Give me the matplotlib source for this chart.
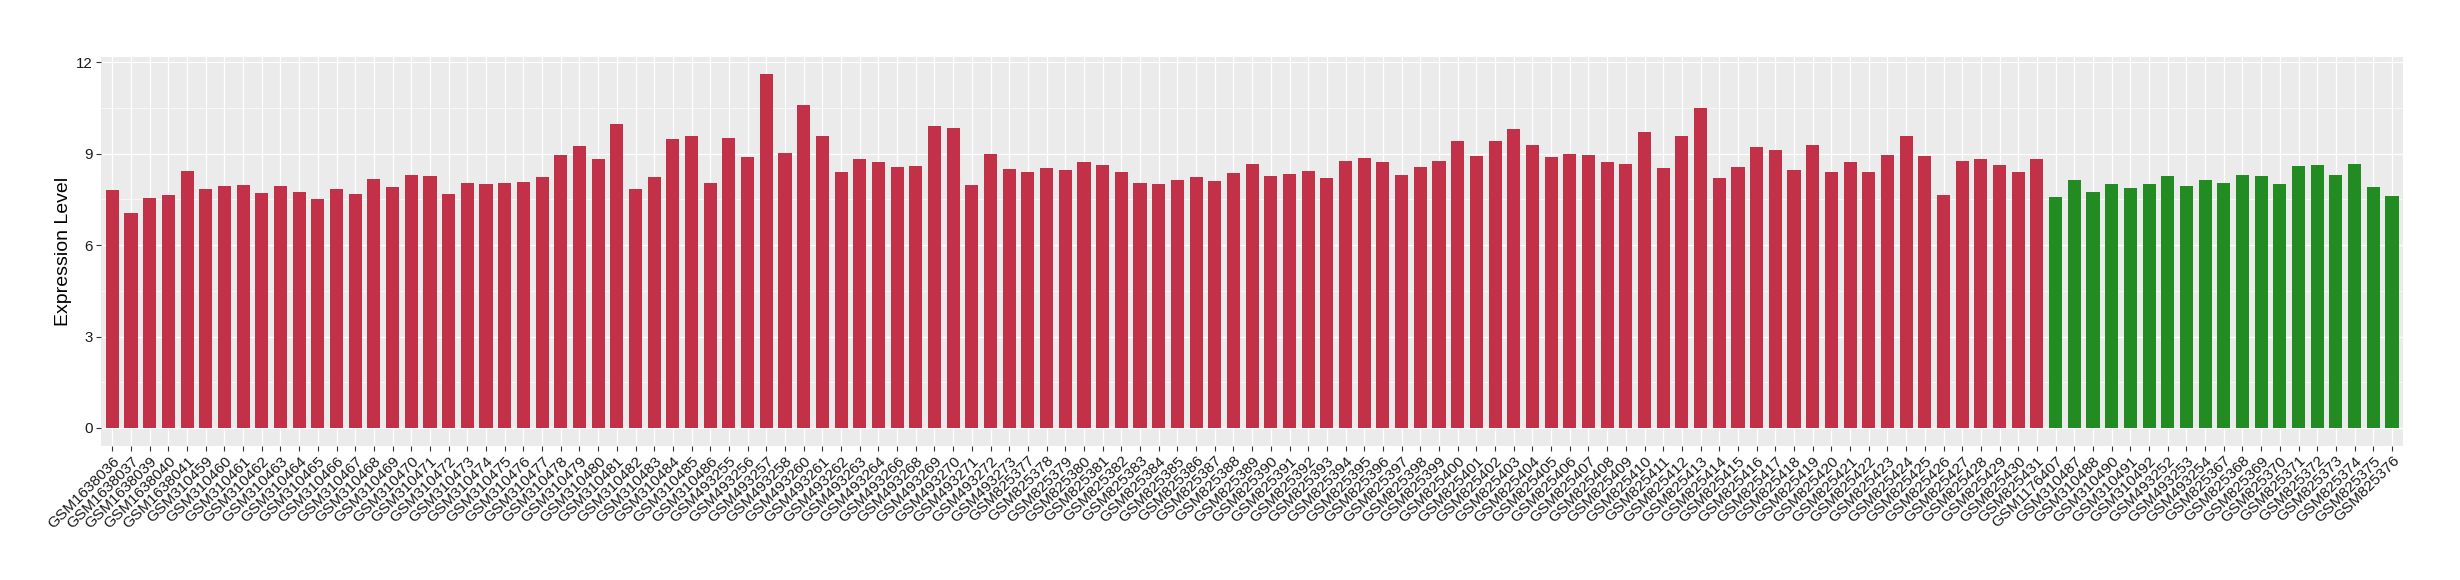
import matplotlib
matplotlib.use("Agg")
import matplotlib.pyplot as plt
from matplotlib.ticker import MultipleLocator

plt.rcParams['font.family'] = ['Liberation Sans', 'DejaVu Sans']

# tumour samples (red) and normal samples (green)
tumor_samples = [
    'GSM1638036', 'GSM1638037', 'GSM1638039', 'GSM1638040', 'GSM1638041',
    'GSM310459', 'GSM310460', 'GSM310461', 'GSM310462', 'GSM310463', 'GSM310464',
    'GSM310465', 'GSM310466', 'GSM310467', 'GSM310468', 'GSM310469', 'GSM310470',
    'GSM310471', 'GSM310472', 'GSM310473', 'GSM310474', 'GSM310475', 'GSM310476',
    'GSM310477', 'GSM310478', 'GSM310479', 'GSM310480', 'GSM310481', 'GSM310482',
    'GSM310483', 'GSM310484', 'GSM310485', 'GSM310486',
    'GSM493255', 'GSM493256', 'GSM493257', 'GSM493258', 'GSM493260', 'GSM493261',
    'GSM493262', 'GSM493263', 'GSM493264', 'GSM493266', 'GSM493268', 'GSM493269',
    'GSM493270', 'GSM493271', 'GSM493272', 'GSM493273',
    'GSM825377', 'GSM825378', 'GSM825379', 'GSM825380', 'GSM825381', 'GSM825382',
    'GSM825383', 'GSM825384', 'GSM825385', 'GSM825386', 'GSM825387', 'GSM825388',
    'GSM825389', 'GSM825390', 'GSM825391', 'GSM825392', 'GSM825393', 'GSM825394',
    'GSM825395', 'GSM825396', 'GSM825397', 'GSM825398', 'GSM825399', 'GSM825400',
    'GSM825401', 'GSM825402', 'GSM825403', 'GSM825404', 'GSM825405', 'GSM825406',
    'GSM825407', 'GSM825408', 'GSM825409', 'GSM825410', 'GSM825411', 'GSM825412',
    'GSM825413', 'GSM825414', 'GSM825415', 'GSM825416', 'GSM825417', 'GSM825418',
    'GSM825419', 'GSM825420', 'GSM825421', 'GSM825422', 'GSM825423', 'GSM825424',
    'GSM825425', 'GSM825426', 'GSM825427', 'GSM825428', 'GSM825429', 'GSM825430',
    'GSM825431',
]
tumor_values = [
    7.80, 7.05, 7.54, 7.64, 8.42, 7.83, 7.93, 7.96, 7.70, 7.93, 7.73, 7.51, 7.83,
    7.67, 8.16, 7.90, 8.29, 8.26, 7.67, 8.03, 8.00, 8.03, 8.06, 8.23, 8.95,
    9.24, 8.81, 9.96, 7.83, 8.23, 9.47, 9.57, 8.03, 9.50, 8.88, 11.60, 9.01, 10.58,
    9.57, 8.39, 8.81, 8.72, 8.55, 8.59, 9.89, 9.83, 7.96, 8.98, 8.49, 8.39,
    8.52, 8.45, 8.72, 8.62, 8.39, 8.03, 8.00, 8.13, 8.23, 8.09, 8.36, 8.65, 8.26,
    8.32, 8.42, 8.19, 8.75, 8.85, 8.72, 8.29, 8.55, 8.75, 9.40, 8.91, 9.40,
    9.80, 9.27, 8.88, 8.98, 8.95, 8.72, 8.65, 9.70, 8.52, 9.57, 10.48, 8.19, 8.55,
    9.21, 9.11, 8.45, 9.27, 8.39, 8.72, 8.39, 8.95, 9.57, 8.91, 7.64, 8.75,
    8.81, 8.62, 8.39, 8.81,
]

normal_samples = [
    'GSM1176407', 'GSM310487', 'GSM310488', 'GSM310490', 'GSM310491', 'GSM310492',
    'GSM493252', 'GSM493253', 'GSM493254',
    'GSM825367', 'GSM825368', 'GSM825369', 'GSM825370', 'GSM825371', 'GSM825372',
    'GSM825373', 'GSM825374', 'GSM825375', 'GSM825376',
]
normal_values = [
    7.57, 8.13, 7.73, 8.00, 7.87, 8.00, 8.26, 7.93, 8.13, 8.03, 8.29, 8.26, 8.00,
    8.59, 8.62, 8.29, 8.65, 7.90, 7.61,
]

tumor_color = '#C33149'
normal_color = '#228B22'

samples = tumor_samples + normal_samples
values = tumor_values + normal_values
colors = [tumor_color] * len(tumor_values) + [normal_color] * len(normal_values)
x = list(range(len(samples)))

fig = plt.figure(figsize=(24.6, 5.8), dpi=100)
ax = fig.add_axes([0.0411, 0.2316, 0.9358, 0.6707])
ax.set_facecolor('#EBEBEB')

ax.bar(x, values, width=0.7, color=colors, zorder=3)

ymax = max(values)
ax.set_ylim(-0.05 * ymax, 1.05 * ymax)
ax.set_xlim(-0.6, len(samples) - 0.4)

ax.yaxis.set_major_locator(MultipleLocator(3))
ax.yaxis.set_minor_locator(MultipleLocator(1.5))
ax.grid(which='major', color='white', linewidth=0.9, zorder=0)
ax.grid(which='minor', axis='y', color='white', linewidth=0.45, zorder=0)
ax.set_axisbelow(True)

ax.set_xticks(x)
ax.set_xticklabels(samples, rotation=45, ha='right', va='top',
                   rotation_mode='anchor', fontsize=11.1, color='#1a1a1a')
ax.tick_params(axis='both', which='major', length=3.3, width=0.8,
               color='#333333', labelcolor='#1a1a1a', pad=2.5)
ax.tick_params(axis='y', labelsize=10.8)
ax.tick_params(axis='y', which='minor', length=0)

for s in ax.spines.values():
    s.set_visible(False)

ax.set_ylabel('Expression Level', fontsize=14, labelpad=3)

fig.savefig('out.png', dpi=100)
